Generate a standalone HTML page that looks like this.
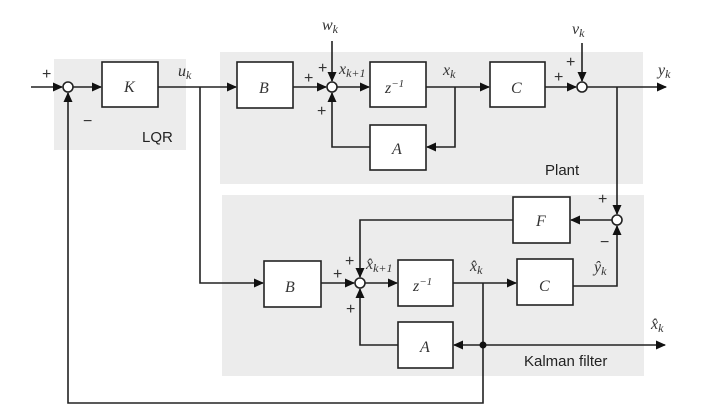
<!DOCTYPE html>
<html><head><meta charset="utf-8"><style>
html,body{margin:0;padding:0;background:#fff;width:701px;height:412px;overflow:hidden}
svg{display:block}
.m{font-family:"Liberation Serif",serif;font-style:italic;font-size:16px;fill:#333}
.s{font-family:"Liberation Sans",sans-serif;font-size:15px;fill:#222}
.p{font-family:"Liberation Sans",sans-serif;font-size:16px;fill:#333}
</style></head><body>
<svg width="701" height="412" viewBox="0 0 701 412" xmlns="http://www.w3.org/2000/svg">
<defs><marker id="a" markerWidth="10" markerHeight="10" refX="9" refY="5" orient="auto" markerUnits="userSpaceOnUse"><path d="M0,0.5 L10,5 L0,9.5 z" fill="#111"/></marker></defs>
<rect x="54" y="59" width="132" height="91" fill="#ececec"/>
<rect x="220" y="52" width="423" height="132" fill="#ececec"/>
<rect x="222" y="195" width="422" height="181" fill="#ececec"/>
<g stroke="#222" stroke-width="1.6" fill="none">
<line x1="31" y1="87" x2="62" y2="87" marker-end="url(#a)"/>
<line x1="73" y1="87" x2="101" y2="87" marker-end="url(#a)"/>
<line x1="158" y1="87" x2="236" y2="87" marker-end="url(#a)"/>
<polyline points="200,87 200,283 263,283" marker-end="url(#a)"/>
<polyline points="483,345 483,403 68,403 68,93" marker-end="url(#a)"/>
<line x1="293" y1="87" x2="326" y2="87" marker-end="url(#a)"/>
<line x1="332" y1="41" x2="332" y2="81" marker-end="url(#a)"/>
<polyline points="370,147 332,147 332,93" marker-end="url(#a)"/>
<line x1="337" y1="87" x2="369" y2="87" marker-end="url(#a)"/>
<line x1="426" y1="87" x2="489" y2="87" marker-end="url(#a)"/>
<polyline points="455,87 455,147 427,147" marker-end="url(#a)"/>
<line x1="545" y1="87" x2="576" y2="87" marker-end="url(#a)"/>
<line x1="582" y1="43" x2="582" y2="81" marker-end="url(#a)"/>
<line x1="587" y1="87" x2="666" y2="87" marker-end="url(#a)"/>
<line x1="617" y1="87" x2="617" y2="214" marker-end="url(#a)"/>
<line x1="612" y1="220" x2="571" y2="220" marker-end="url(#a)"/>
<polyline points="513,220 360,220 360,277" marker-end="url(#a)"/>
<line x1="321" y1="283" x2="354" y2="283" marker-end="url(#a)"/>
<line x1="365" y1="283" x2="397" y2="283" marker-end="url(#a)"/>
<polyline points="398,345 360,345 360,289" marker-end="url(#a)"/>
<line x1="453" y1="283" x2="516" y2="283" marker-end="url(#a)"/>
<line x1="483" y1="283" x2="483" y2="345"/>
<line x1="483" y1="345" x2="454" y2="345" marker-end="url(#a)"/>
<line x1="483" y1="345" x2="665" y2="345" marker-end="url(#a)"/>
<polyline points="573,286 617,286 617,226" marker-end="url(#a)"/>
</g>
<g stroke="#222" stroke-width="1.6" fill="#fff">
<rect x="102" y="62" width="56" height="45"/>
<rect x="237" y="62" width="56" height="46"/>
<rect x="370" y="62" width="56" height="45"/>
<rect x="370" y="125" width="56" height="45"/>
<rect x="490" y="62" width="55" height="45"/>
<rect x="513" y="197" width="57" height="46"/>
<rect x="264" y="261" width="57" height="46"/>
<rect x="398" y="260" width="55" height="46"/>
<rect x="517" y="259" width="56" height="46"/>
<rect x="398" y="322" width="55" height="46"/>
<circle cx="68" cy="87" r="5"/><circle cx="332" cy="87" r="5"/><circle cx="582" cy="87" r="5"/>
<circle cx="617" cy="220" r="5"/><circle cx="360" cy="283" r="5"/>
</g>
<circle cx="483" cy="345" r="3.5" fill="#111"/>
<text class="m" x="124" y="92">K</text>
<text class="m" x="259" y="93">B</text>
<text class="m" x="385" y="93">z<tspan font-size="11" dy="-6">−1</tspan></text>
<text class="m" x="392" y="154">A</text>
<text class="m" x="511" y="93">C</text>
<text class="m" x="536" y="226">F</text>
<text class="m" x="285" y="292">B</text>
<text class="m" x="413" y="291">z<tspan font-size="11" dy="-6">−1</tspan></text>
<text class="m" x="539" y="291">C</text>
<text class="m" x="420" y="352">A</text>
<text class="m" x="178" y="76">u<tspan font-size="12" dy="3">k</tspan></text>
<text class="m" x="322" y="30">w<tspan font-size="12" dy="3">k</tspan></text>
<text class="m" x="339" y="74">x<tspan font-size="12" dy="3">k+1</tspan></text>
<text class="m" x="443" y="75">x<tspan font-size="12" dy="3">k</tspan></text>
<text class="m" x="572" y="34">v<tspan font-size="12" dy="3">k</tspan></text>
<text class="m" x="658" y="75">y<tspan font-size="12" dy="3">k</tspan></text>
<text class="m" x="366" y="269">x̂<tspan font-size="12" dy="3">k+1</tspan></text>
<text class="m" x="470" y="271">x̂<tspan font-size="12" dy="3">k</tspan></text>
<text class="m" x="594" y="272">ŷ<tspan font-size="12" dy="3">k</tspan></text>
<text class="m" x="651" y="329">x̂<tspan font-size="12" dy="3">k</tspan></text>
<text class="p" x="42" y="79">+</text><text class="p" x="83" y="126">−</text>
<text class="p" x="304" y="83">+</text><text class="p" x="318" y="73">+</text><text class="p" x="317" y="116">+</text>
<text class="p" x="554" y="82">+</text><text class="p" x="566" y="67">+</text>
<text class="p" x="598" y="204">+</text><text class="p" x="600" y="247">−</text>
<text class="p" x="333" y="279">+</text><text class="p" x="345" y="266">+</text><text class="p" x="346" y="314">+</text>
<text class="s" x="142" y="142">LQR</text>
<text class="s" x="545" y="175">Plant</text>
<text class="s" x="524" y="366">Kalman filter</text>
</svg>
</body></html>
